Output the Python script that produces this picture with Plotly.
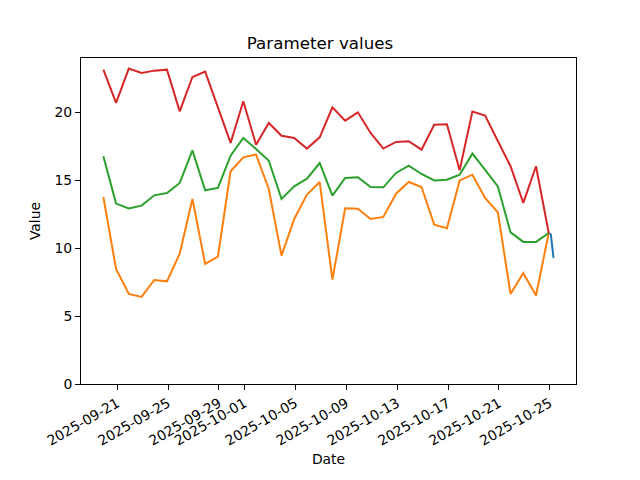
import plotly.graph_objects as go
import pandas as pd

start = "2025-09-19T22:00"
n_days = 36
dates = list(pd.date_range(start, periods=n_days, freq="D"))

orange_vals = [13.77, 8.47, 6.63, 6.41, 7.66, 7.56, 9.60, 13.62, 8.84, 9.37, 15.66, 16.69,
               16.89, 14.36, 9.45, 12.15, 13.94, 14.87, 7.68, 12.93, 12.91, 12.15, 12.30, 14.01,
               14.87, 14.50, 11.73, 11.46, 14.99, 15.41, 13.70, 12.64, 6.63, 8.17, 6.52, 11.12]
green_vals = [16.76, 13.28, 12.93, 13.13, 13.89, 14.06, 14.80, 17.20, 14.26, 14.43, 16.81, 18.11,
              17.30, 16.44, 13.62, 14.55, 15.12, 16.27, 13.87, 15.17, 15.22, 14.50, 14.48, 15.54,
              16.08, 15.46, 14.99, 15.04, 15.41, 16.96, 15.76, 14.55, 11.16, 10.46, 10.46, 11.12]
red_vals = [23.14, 20.69, 23.22, 22.90, 23.07, 23.14, 20.07, 22.60, 23.00, 20.30, 17.75, 20.81,
            17.62, 19.22, 18.28, 18.11, 17.33, 18.16, 20.37, 19.39, 20.00, 18.48, 17.33, 17.82,
            17.87, 17.25, 19.09, 19.12, 15.73, 20.05, 19.76, 17.89, 16.03, 13.33, 16.03, 11.12]
blue_dates = ["2025-10-24T22:00", "2025-10-25T02:00", "2025-10-25T07:00"]
blue_vals = [11.12, 11.00, 9.28]

tick_vals = ["2025-09-21", "2025-09-25", "2025-09-29", "2025-10-01", "2025-10-05",
             "2025-10-09", "2025-10-13", "2025-10-17", "2025-10-21", "2025-10-25"]
tick_text = tick_vals

fig = go.Figure()
fig.add_trace(go.Scatter(x=blue_dates, y=blue_vals, mode="lines",
                         line=dict(color="#1f77b4", width=2)))
fig.add_trace(go.Scatter(x=dates, y=orange_vals, mode="lines",
                         line=dict(color="#ff7f0e", width=2)))
fig.add_trace(go.Scatter(x=dates, y=green_vals, mode="lines",
                         line=dict(color="#2ca02c", width=2)))
fig.add_trace(go.Scatter(x=dates, y=red_vals, mode="lines",
                         line=dict(color="#d62728", width=2)))

font = "DejaVu Sans"
fig.update_layout(
    width=640, height=480,
    margin=dict(l=81, r=64, t=58, b=96),
    paper_bgcolor="white", plot_bgcolor="white",
    showlegend=False,
    font=dict(family=font, size=13.9, color="black"),
    title=dict(text="Parameter values", x=0.5, xanchor="center", y=1 - 43 / 480,
               yanchor="middle", font=dict(family=font, size=16.7, color="black")),
)
fig.update_xaxes(
    range=["2025-09-18T03:50", "2025-10-27T01:25"],
    tickvals=tick_vals, ticktext=tick_text, tickangle=-30,
    showgrid=False, zeroline=False,
    showline=True, linecolor="black", linewidth=1, mirror=True,
    ticks="outside", ticklen=5, tickcolor="black",
    tickfont=dict(family=font, size=13.9),
    title=dict(text="Date", font=dict(family=font, size=13.9), standoff=6),
    automargin=False,
)
fig.update_yaxes(
    range=[0, 24.0],
    tickvals=[0, 5, 10, 15, 20],
    showgrid=False, zeroline=False,
    showline=True, linecolor="black", linewidth=1, mirror=True,
    ticks="outside", ticklen=5, tickcolor="black",
    tickfont=dict(family=font, size=13.9),
    title=dict(text="Value", font=dict(family=font, size=13.9), standoff=10),
    automargin=False,
)

fig.write_html("out.html", config={"displayModeBar": False},
               post_script="document.body.style.margin='0';")
